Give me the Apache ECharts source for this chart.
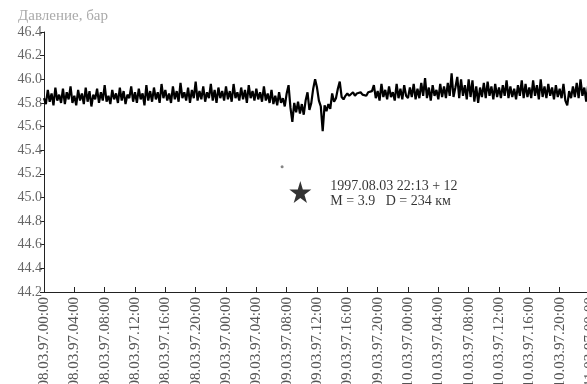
<!DOCTYPE html>
<html>
<head>
<meta charset="utf-8">
<script src="https://cdn.jsdelivr.net/npm/echarts@6/dist/echarts.min.js"></script>
<style>
  html, body { margin: 0; padding: 0; background: #fff; }
  #pressureChart { width: 587px; height: 384px; }
</style>
</head>
<body>
<div id="pressureChart"></div>
<script>
// readings every 15 min, starting 08.03.97 00:00
const stepHours = 0.25

const day1 = [
  45.84, 45.79, 45.91, 45.81, 45.88, 45.78, 45.93, 45.82, 45.87, 45.80,
  45.92, 45.79, 45.89, 45.83, 45.94, 45.80, 45.86, 45.78, 45.91, 45.82,
  45.88, 45.79, 45.93, 45.81, 45.90, 45.77, 45.87, 45.83, 45.92, 45.80,
  45.89, 45.82, 45.95, 45.81, 45.86, 45.79, 45.91, 45.83, 45.88, 45.80,
  45.93, 45.82, 45.90, 45.79, 45.87, 45.84, 45.94, 45.81, 45.89, 45.80,
  45.92, 45.83, 45.88, 45.78, 45.95, 45.82, 45.90, 45.81, 45.93, 45.83,
  45.89, 45.80, 45.96, 45.84, 45.91, 45.82, 45.88, 45.80, 45.94, 45.83,
  45.90, 45.81, 45.97, 45.84, 45.89, 45.82, 45.93, 45.80, 45.91, 45.84,
  45.98, 45.82, 45.90, 45.83, 45.94, 45.81, 45.89, 45.84, 45.96, 45.82,
  45.91, 45.80, 45.93, 45.84, 45.90, 45.82
]

const day2 = [
  45.94, 45.83, 45.90, 45.81, 45.96, 45.84, 45.89, 45.82, 45.93, 45.83,
  45.91, 45.80, 45.95, 45.84, 45.90, 45.82, 45.92, 45.83, 45.89, 45.81,
  45.94, 45.82, 45.88, 45.80, 45.91, 45.79, 45.86, 45.78, 45.89, 45.80,
  45.84,
  // earthquake response
  45.77, 45.88, 45.95, 45.76, 45.64, 45.80, 45.72, 45.81, 45.71, 45.79,
  45.70, 45.82, 45.89, 45.74, 45.80, 45.92, 46.00, 45.93, 45.82, 45.77,
  45.56, 45.78, 45.73, 45.79, 45.75, 45.88, 45.81, 45.84, 45.92, 45.98,
  45.85, 45.83,
  // quiet part after it
  45.86, 45.88, 45.86, 45.87, 45.89, 45.86, 45.88, 45.87, 45.89, 45.87,
  45.88, 45.86, 45.89, 45.88, 45.90,
  45.95, 45.84, 45.90, 45.82, 45.96, 45.85, 45.91, 45.83, 45.94, 45.85,
  45.89, 45.82, 45.96, 45.84, 45.92, 45.83, 45.95, 45.86
]

const day3 = [
  45.84, 45.93, 45.85, 45.96, 45.83, 45.92, 45.84, 45.97, 45.86, 46.01,
  45.84, 45.93, 45.82, 45.95, 45.86, 45.91, 45.83, 45.96, 45.85, 45.94,
  45.84, 45.97, 45.86, 46.05, 45.85, 45.93, 46.02, 45.84, 46.00, 45.86,
  45.95, 45.83, 46.00, 45.85, 45.99, 45.81, 45.94, 45.80, 45.93, 45.85,
  45.97, 45.84, 45.98, 45.86, 45.94, 45.83, 45.96, 45.85, 45.93, 45.84,
  45.95, 45.86, 45.99, 45.84, 45.94, 45.85, 45.92, 45.83, 45.95, 45.86,
  45.99, 45.84, 45.96, 45.85, 45.93, 45.84, 45.99, 45.86, 45.95, 45.83,
  46.00, 45.85, 45.94, 45.84, 45.96, 45.86, 45.93, 45.83, 45.95, 45.85,
  45.92, 45.84, 45.96, 45.82, 45.78, 45.90, 45.84, 45.94, 45.85, 45.97,
  45.84, 46.00, 45.86, 45.93, 45.81, 45.95, 45.85
]

// x tick labels, one every 4 hours
const timeTicks = [
  '08.03.97.00:00', '08.03.97.04:00', '08.03.97.08:00', '08.03.97.12:00',
  '08.03.97.16:00', '08.03.97.20:00', '09.03.97.00:00', '09.03.97.04:00',
  '09.03.97.08:00', '09.03.97.12:00', '09.03.97.16:00', '09.03.97.20:00',
  '10.03.97.00:00', '10.03.97.04:00', '10.03.97.08:00', '10.03.97.12:00',
  '10.03.97.16:00', '10.03.97.20:00', '11.03.97.00:00'
]

// event marker (hours, bar) and the small dot above it
const quakePoint = [33.8, 45.046]
const dotPoint = [31.4, 45.26]
const quakeText = ['1997.08.03 22:13 + 12', 'M = 3.9   D = 234 км']

const serif = '"Liberation Serif", "DejaVu Serif", serif'

const pressure = day1.concat(day2, day3).map((v, i) => [i * stepHours, v])

const chart = echarts.init(document.getElementById('pressureChart'))
chart.setOption({
  animation: false,
  title: {
    text: 'Давление, бар',
    left: 13,
    top: 4,
    textStyle: { fontFamily: serif, fontSize: 15, fontWeight: 'normal', color: '#aaa' }
  },
  // labels are allowed to run off the page, like the cropped scan
  grid: { left: 44, right: -3, top: 32, bottom: 92, outerBoundsMode: 'none' },
  xAxis: {
    type: 'value',
    min: 0,
    max: 72,
    interval: 4,
    splitLine: { show: false },
    axisLine: { lineStyle: { color: '#222', width: 1 } },
    axisTick: { inside: true, length: 5, lineStyle: { color: '#222' } },
    axisLabel: {
      rotate: 90,
      margin: 5,
      fontFamily: serif,
      fontSize: 15,
      color: '#555',
      showMaxLabel: true,
      formatter: v => timeTicks[Math.round(v / 4)] || ''
    }
  },
  yAxis: {
    type: 'value',
    min: 44.2,
    max: 46.4,
    interval: 0.2,
    splitLine: { show: false },
    axisLine: { show: true, lineStyle: { color: '#222', width: 1 } },
    axisTick: { show: true, length: 4, lineStyle: { color: '#222' } },
    axisLabel: {
      margin: 2,
      fontFamily: serif,
      fontSize: 14,
      color: '#666',
      formatter: v => v.toFixed(1)
    }
  },
  series: [
    {
      type: 'line',
      data: pressure,
      showSymbol: false,
      lineStyle: { color: '#000', width: 2.2 },
      z: 3
    },
    {
      type: 'scatter',
      data: [quakePoint],
      symbol: 'path://M50,0 L61,35 L98,35 L68,57 L79,91 L50,70 L21,91 L32,57 L2,35 L39,35 Z',
      symbolSize: 22,
      itemStyle: { color: '#000' },
      label: {
        show: true,
        position: 'right',
        distance: 19,
        offset: [0, 2],
        fontFamily: serif,
        fontSize: 14,
        lineHeight: 15,
        color: '#000',
        formatter: quakeText.join('\n')
      }
    },
    {
      type: 'scatter',
      data: [dotPoint],
      symbolSize: 3,
      itemStyle: { color: '#666' }
    }
  ]
})
</script>
</body>
</html>
